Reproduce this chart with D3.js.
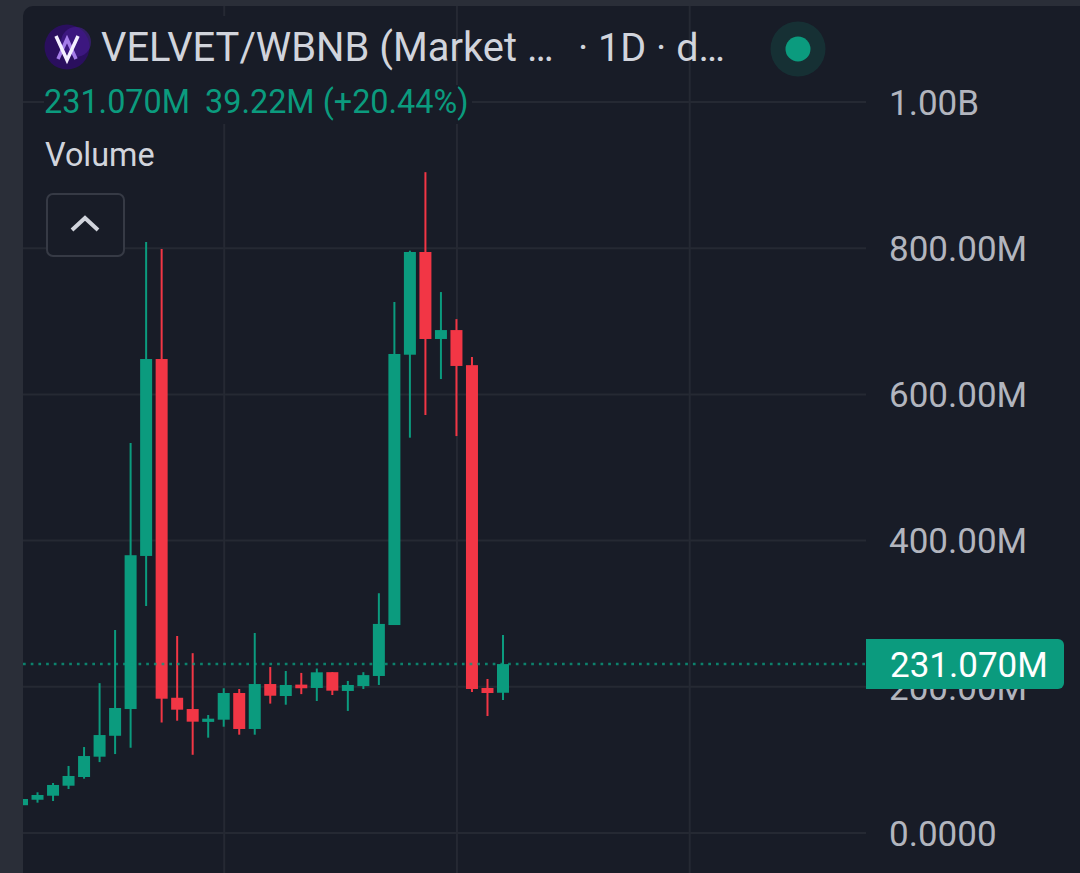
<!DOCTYPE html>
<html>
<head>
<meta charset="utf-8">
<script src="https://cdn.jsdelivr.net/npm/d3@7/dist/d3.min.js"></script>
<style>
html,body{margin:0;padding:0;background:#2a2e38;}
svg{display:block;font-family:Roboto,sans-serif;}
</style>
</head>
<body>
<svg id="chart" width="1080" height="873"></svg>
<script>
// Daily market-cap candles, values in millions
const opens  = [38,45.5,51,64.7,76.6,104.4,133,169.6,379,648.4,185,169.6,152,155,191.5,142.3,203.8,187.4,203,198.4,220,194.3,201,214.8,284.5,654.3,794.8,675.8,688,640,198.4,191.85];
const highs  = [46.5,55.7,68.4,91.7,117.6,205,277.7,533.5,808.5,799,269.5,246,161.4,198,197,273.6,227,221.6,219,225,220,208,220,328,726.4,796.6,904,740,703,651,210.7,270.9];
const lows   = [38,41.5,43.8,60.2,74.3,97,108,116.7,310.5,151,153.6,107,130.4,145.4,134.5,134.5,177,175.5,190,180.6,188.8,167,197,202.5,284.5,540.8,571.8,621,543,193,160,182];
const closes = [46.5,52,65.7,78,105.3,134,171,380,648.4,183.7,168.7,152.3,156.4,191.5,142.3,203.8,187.8,202.5,198,219.8,194.7,202.5,216,286,655.3,794.8,675.8,688,638.9,197,191.5,231.07];

const priceTicks = [0,200,400,600,800,1000];
const tickLabels = ["0.0000","200.00M","400.00M","600.00M","800.00M","1.00B"];
const timeGridBars = [13,28,43];
const lastValue = 231.07;
const titleText = "VELVET/WBNB (Market …";
const intervalText = "· 1D · d…";
const legendText = ["231.070M","39.22M (+20.44%)"];

const UP = "#0b9b7e", DOWN = "#f23645", GRID = "#252933", PANEL = "#181c27";
const svg = d3.select("#chart");
const plot = {left:23, right:866, top:6, bottom:873};

// Panel with rounded top-left corner
svg.append("rect").attr("x",plot.left).attr("y",plot.top).attr("width",1080-plot.left+20).attr("height",900)
  .attr("rx",10).attr("fill",PANEL);

const x = d3.scaleLinear().domain([0,31]).range([22,503]);
const y = d3.scaleLinear().domain([0,1000]).range([833,102]);

svg.append("defs").append("clipPath").attr("id","plotClip").append("rect")
  .attr("x",plot.left).attr("y",plot.top).attr("width",plot.right-plot.left).attr("height",plot.bottom-plot.top);

// Grid lines
const gridG = svg.append("g");
gridG.selectAll("line.h").data(priceTicks).join("line").attr("class","h")
  .attr("x1",plot.left).attr("x2",plot.right).attr("y1",d=>y(d)).attr("y2",d=>y(d))
  .attr("stroke",GRID).attr("stroke-width",2);
gridG.selectAll("line.v").data(timeGridBars).join("line").attr("class","v")
  .attr("x1",d=>x(d)+.5).attr("x2",d=>x(d)+.5).attr("y1",plot.top).attr("y2",plot.bottom)
  .attr("stroke",GRID).attr("stroke-width",2);

// Legend rows sit on panel-coloured backing that hides the grid behind them
svg.append("rect").attr("x",44).attr("y",85).attr("width",428).attr("height",39).attr("fill",PANEL);
svg.append("rect").attr("x",44).attr("y",16).attr("width",390).attr("height",70).attr("fill",PANEL);

// Candles
const candles = d3.range(closes.length).map(i=>({i,o:opens[i],h:highs[i],l:lows[i],c:closes[i]}));
const marks = svg.append("g").attr("clip-path","url(#plotClip)");
const colour = d=>d.c>=d.o?UP:DOWN;
marks.selectAll("line.wick").data(candles).join("line").attr("class","wick")
  .attr("x1",d=>x(d.i)).attr("x2",d=>x(d.i)).attr("y1",d=>y(d.h)).attr("y2",d=>y(d.l))
  .attr("stroke",colour).attr("stroke-width",2);
marks.selectAll("rect.body").data(candles).join("rect").attr("class","body")
  .attr("x",d=>x(d.i)-6).attr("width",12)
  .attr("y",d=>y(Math.max(d.o,d.c))).attr("height",d=>Math.max(2,Math.abs(y(d.o)-y(d.c))))
  .attr("fill",colour);

// Last-value dotted line
svg.append("line").attr("x1",plot.left).attr("x2",plot.right).attr("y1",y(lastValue)).attr("y2",y(lastValue))
  .attr("stroke",UP).attr("stroke-width",2.5).attr("stroke-dasharray","2.7 5").attr("opacity",.8);

// Price axis
const axis = d3.axisRight(y).tickValues(priceTicks).tickSize(0).tickPadding(0)
  .tickFormat((d,i)=>tickLabels[i]);
const axisG = svg.append("g").attr("transform","translate(889,1)").call(axis);
axisG.select(".domain").remove();
axisG.selectAll("text").attr("fill","#b2b5be").attr("font-size",35).attr("font-family","Roboto");

// Last-value tag
svg.append("path").attr("fill",UP)
  .attr("d","M866 639H1058a6 6 0 0 1 6 6V683a6 6 0 0 1 -6 6H866Z");
svg.append("text").attr("x",890).attr("y",y(lastValue)+13).attr("fill","#ffffff").attr("font-size",35)
  .text(d3.format(".3f")(lastValue)+"M");

// Legend
const logo = svg.append("g").attr("transform","translate(67,47)");
logo.append("circle").attr("r",22.5).attr("fill","#2a0f5e");
logo.append("circle").attr("r",15).attr("cx",9).attr("cy",-5).attr("fill","#4a1f9a").attr("opacity",.55);
logo.append("path").attr("d","M-9 12L0 -8L9 12").attr("fill","none").attr("stroke","#a47ce8").attr("stroke-width",3.5);
logo.append("path").attr("d","M-11 -11L0 13L11 -11").attr("fill","none").attr("stroke","#f4f0ff").attr("stroke-width",3.5);

svg.append("text").attr("x",101).attr("y",61).attr("font-size",39.9).attr("fill","#d1d4dc").text(titleText);
svg.append("text").attr("x",578).attr("y",61).attr("font-size",39.5).attr("fill","#d1d4dc").text(intervalText);

svg.append("circle").attr("cx",798).attr("cy",49).attr("r",27.5).attr("fill",UP).attr("opacity",.16);
svg.append("circle").attr("cx",798).attr("cy",49).attr("r",12.5).attr("fill",UP);

svg.append("text").attr("x",44).attr("y",113).attr("font-size",32.4).attr("fill",UP).text(legendText[0]);
svg.append("text").attr("x",205).attr("y",113).attr("font-size",32.4).attr("fill",UP).text(legendText[1]);
svg.append("text").attr("x",45).attr("y",166).attr("font-size",32.4).attr("fill","#d1d4dc").text("Volume");

// Collapse button
svg.append("rect").attr("x",47).attr("y",194).attr("width",77).attr("height",62).attr("rx",6)
  .attr("fill",PANEL).attr("stroke","#363a45").attr("stroke-width",2);
svg.append("path").attr("d","M72 230L85 218L98 230").attr("fill","none").attr("stroke","#d1d4dc").attr("stroke-width",4);
</script>
</body>
</html>
